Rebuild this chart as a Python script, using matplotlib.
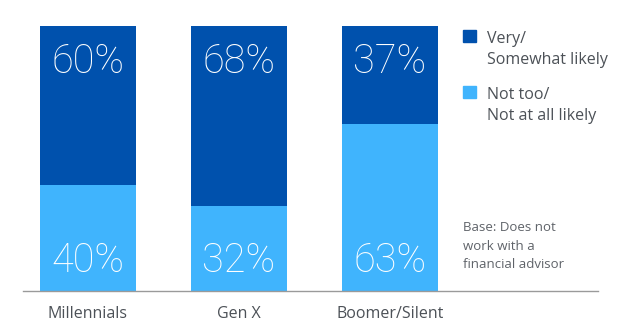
import matplotlib.pyplot as plt
import numpy as np

# survey shares by generation
groups = ['Millennials', 'Gen X', 'Boomer/Silent']
not_likely = [40, 32, 63]
likely = [60, 68, 37]
series_names = ['Very/\nSomewhat likely', 'Not too/\nNot at all likely']
base_note = 'Base: Does not\nwork with a\nfinancial advisor'

dark_blue = '#0051ad'
light_blue = '#40b4fd'
text_grey = '#4c5157'

fig = plt.figure(figsize=(6.28, 3.23), dpi=100)
ax = fig.add_axes([23 / 628, 32 / 323, 575 / 628, 265 / 323])

x = np.arange(len(groups))
w = 0.636
ax.bar(x, not_likely, width=w, color=light_blue)
ax.bar(x, likely, width=w, bottom=not_likely, color=dark_blue)

big = dict(color='white', fontsize=28.5, ha='center', va='center',
           family='Roboto', fontweight='light')
for i in range(len(groups)):
    ax.text(x[i], 11.5, f'{not_likely[i]}%', **big)
    ax.text(x[i], 86.5, f'{likely[i]}%', **big)

ax.set_xlim(-0.43, 3.377)
ax.set_ylim(0, 100)
ax.set_yticks([])
ax.set_xticks(x)
ax.set_xticklabels(groups, fontsize=11.5, color=text_grey, family='Open Sans')
ax.tick_params(axis='x', length=0, pad=11)
for s in ['top', 'right', 'left']:
    ax.spines[s].set_visible(False)
ax.spines['bottom'].set_color('#9a9a9a')
ax.spines['bottom'].set_linewidth(1)

# legend drawn by hand: squares with two-line labels
for j, (name, col) in enumerate(zip(series_names, [dark_blue, light_blue])):
    y0 = 30 + j * 56
    fig.patches.append(plt.Rectangle((463 / 628, 1 - (y0 + 12) / 323), 13 / 628, 12 / 323,
                                     transform=fig.transFigure, color=col))
    fig.text(487 / 628, 1 - (y0 + 1) / 323, name, fontsize=11.5, color=text_grey,
             family='Open Sans', va='top', linespacing=1.45)

fig.text(463 / 628, 1 - 221 / 323, base_note, fontsize=9.5, color='#5f6369',
         family='Open Sans', va='top', linespacing=1.55)

fig.savefig('out.png', dpi=100)
